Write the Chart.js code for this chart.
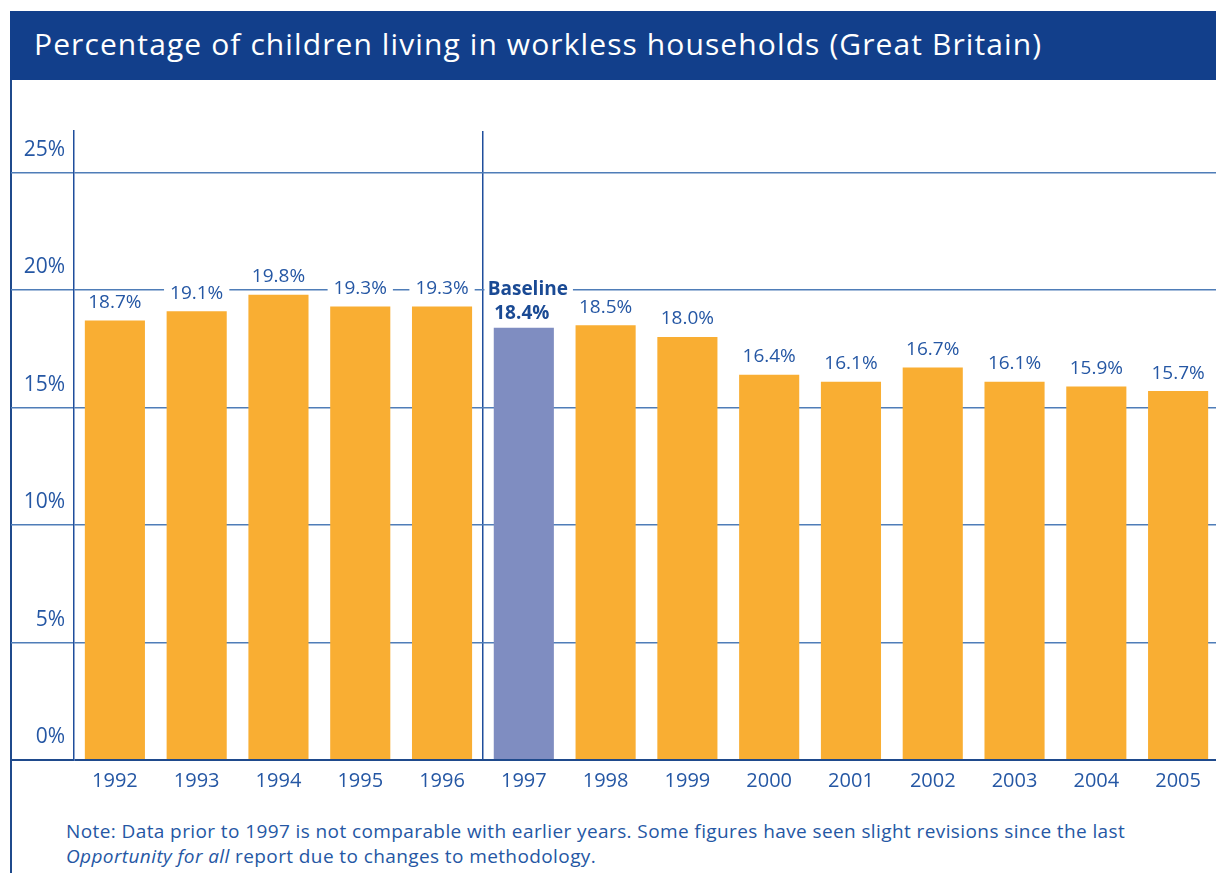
<!DOCTYPE html>
<html>
<head>
<meta charset="utf-8">
<title>Children in workless households</title>
<script src="https://cdn.jsdelivr.net/npm/chart.js@4.4.1/dist/chart.umd.min.js"></script>
<style>
  html, body { margin: 0; padding: 0; background: #fff; overflow: hidden; }
  body { width: 1216px; height: 873px; position: relative; font-family: "Open Sans", sans-serif; }
  .title-bar {
    position: absolute; left: 10px; top: 11px; width: 1206px; height: 69px;
    background: #123f8b; color: #fff; font-size: 30px; line-height: 66px; letter-spacing: 1.1px;
    padding-left: 24px; box-sizing: border-box; white-space: nowrap;
  }
  .frame-left { position: absolute; left: 10px; top: 80px; width: 2px; height: 793px; background: #1f4a8c; }
  .chart-box { position: absolute; left: 11px; top: 80px; width: 1208px; height: 720px; }
  .note {
    position: absolute; left: 66px; top: 819px; font-size: 19px; line-height: 25px; letter-spacing: 0.4px;
    color: #2557a4; white-space: nowrap;
  }
</style>
</head>
<body>
<div class="title-bar">Percentage of children living in workless households (Great Britain)</div>
<div class="frame-left"></div>
<div class="chart-box"><canvas id="chart" width="1208" height="720"></canvas></div>
<div class="note">Note: Data prior to 1997 is not comparable with earlier years. Some figures have seen slight revisions since the last<br><i>Opportunity for all</i> report due to changes to methodology.</div>

<script>
// Percentage of children in workless households, Great Britain
const years = ['1992', '1993', '1994', '1995', '1996', '1997', '1998',
               '1999', '2000', '2001', '2002', '2003', '2004', '2005'];
const childPct = [18.7, 19.1, 19.8, 19.3, 19.3, 18.4, 18.5,
                  18.0, 16.4, 16.1, 16.7, 16.1, 15.9, 15.7];
const baselineYear = '1997';
const yTicks = [0, 5, 10, 15, 20, 25];
const yTop = 26.77;

const ORANGE = '#f9ae33';
const BASELINE_FILL = '#7f8dc1';
const TEXT_BLUE = '#2557a4';
const DARK_BLUE = '#1a4a94';
const GRID_BLUE = '#4f7db8';
const FONT = '"Open Sans", sans-serif';

const baselineIndex = years.indexOf(baselineYear);

// value labels above each bar, on a white patch that breaks the grid line
const valueLabels = {
  id: 'valueLabels',
  afterDatasetsDraw (chart) {
    const ctx = chart.ctx;
    const bars = chart.getDatasetMeta(0).data;
    const splitX = (bars[baselineIndex - 1].x + bars[baselineIndex].x) / 2;

    ctx.save();
    ctx.textAlign = 'center';
    ctx.textBaseline = 'middle';

    bars.forEach((bar, i) => {
      const text = childPct[i].toFixed(1) + '%';

      if (i === baselineIndex) {
        ctx.font = 'bold 19px ' + FONT;
        const w = ctx.measureText('Baseline').width;
        const left = Math.max(splitX + 1.5, bar.x + 4 - w / 2 - 4);
        ctx.fillStyle = '#fff';
        ctx.fillRect(left, bar.y - 50, bar.x + 4 + w / 2 + 5 - left, 24);
        ctx.fillStyle = DARK_BLUE;
        ctx.fillText('Baseline', bar.x + 4, bar.y - 38);
        ctx.fillText(text, bar.x - 2, bar.y - 14);
        return;
      }

      ctx.font = '19px ' + FONT;
      const w = ctx.measureText(text).width;
      ctx.fillStyle = '#fff';
      ctx.fillRect(bar.x - w / 2 - 6, bar.y - 29, w + 12, 22);
      ctx.fillStyle = TEXT_BLUE;
      ctx.fillText(text, bar.x, bar.y - 18);
    });

    ctx.restore();
  }
};

new Chart(document.getElementById('chart'), {
  type: 'bar',
  data: {
    labels: years,
    datasets: [{
      data: childPct,
      backgroundColor: years.map(y => y === baselineYear ? BASELINE_FILL : ORANGE),
      borderWidth: 0,
      categoryPercentage: 1,
      barPercentage: 0.735
    }]
  },
  options: {
    responsive: false,
    devicePixelRatio: 1,
    animation: false,
    layout: { padding: { top: 51, left: 0, right: 0, bottom: 0 } },
    plugins: {
      legend: { display: false },
      tooltip: { enabled: false }
    },
    scales: {
      x: {
        offset: true,
        grid: {
          offset: true,
          drawTicks: false,
          lineWidth: 1.5,
          color: ctx => ctx.index === baselineIndex ? '#1f4e9c' : 'rgba(0,0,0,0)'
        },
        border: { display: false },
        ticks: {
          color: TEXT_BLUE,
          font: { family: FONT, size: 20 },
          padding: 9,
          maxRotation: 0
        },
        afterFit: scale => { scale.height = 40; }
      },
      y: {
        min: 0,
        max: yTop,
        afterBuildTicks: scale => { scale.ticks = yTicks.map(v => ({ value: v })); },
        grid: {
          drawTicks: true,
          tickLength: 63,
          color: ctx => ctx.tick && ctx.tick.value === 0 ? '#1f4a8c' : GRID_BLUE,
          lineWidth: ctx => ctx.tick && ctx.tick.value === 0 ? 2 : 1.5
        },
        border: { display: true, color: '#1f4e9c', width: 1.5 },
        ticks: {
          padding: -54,
          labelOffset: -23,
          color: TEXT_BLUE,
          font: { family: FONT, size: 21 },
          callback: v => v + '%'
        },
        afterFit: scale => { scale.width = 63; }
      }
    }
  },
  plugins: [valueLabels]
});
</script>
</body>
</html>
